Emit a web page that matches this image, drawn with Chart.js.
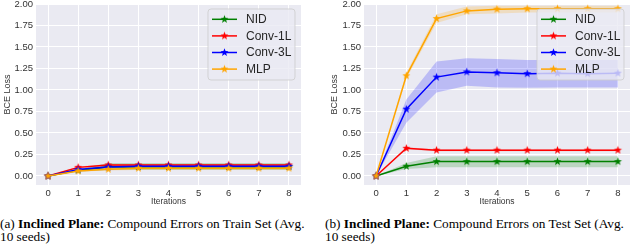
<!DOCTYPE html>
<html>
<head>
<meta charset="utf-8">
<script src="https://cdn.jsdelivr.net/npm/chart.js@4.4.0/dist/chart.umd.min.js"></script>
<style>
  html, body { margin: 0; padding: 0; background: #fff; overflow: hidden; }
  body { width: 640px; height: 247px; position: relative; }
  .plot { position: absolute; top: -8px; width: 320px; height: 220px; }
  .caption {
    position: absolute; top: 217px;
    font-family: "Liberation Serif", "Times New Roman", serif;
    font-size: 13.3px; line-height: 13px; color: #000; white-space: nowrap;
  }
</style>
</head>
<body>
<div class="plot" style="left:0"><canvas id="trainChart"></canvas></div>
<div class="plot" style="left:320px"><canvas id="testChart"></canvas></div>
<div class="caption" style="left:0">(a) <b>Inclined Plane:</b> Compound Errors on Train Set (Avg.<br>10 seeds)</div>
<div class="caption" style="left:325px">(b) <b>Inclined Plane:</b> Compound Errors on Test Set (Avg.<br>10 seeds)</div>
<script>
// --- Data ---
const iterations = [0, 1, 2, 3, 4, 5, 6, 7, 8];
const seriesNames = ['NID', 'Conv-1L', 'Conv-3L', 'MLP'];
const seriesColors = ['#008000', '#ff0000', '#0000ff', '#ffa500'];
const yTicks = [0, 0.25, 0.5, 0.75, 1.0, 1.25, 1.5, 1.75, 2.0];

// train set (a)
const trainNID = [0, 0.065, 0.108, 0.108, 0.108, 0.108, 0.108, 0.108, 0.108];
const trainNIDLo = [0, 0.05, 0.07, 0.07, 0.07, 0.07, 0.07, 0.07, 0.07];
const trainNIDHi = [0, 0.08, 0.15, 0.15, 0.15, 0.15, 0.15, 0.15, 0.15];
const trainConv1L = [0, 0.100, 0.128, 0.128, 0.128, 0.128, 0.128, 0.128, 0.128];
const trainConv1LLo = [0, 0.09, 0.118, 0.118, 0.118, 0.118, 0.118, 0.118, 0.118];
const trainConv1LHi = [0, 0.11, 0.138, 0.138, 0.138, 0.138, 0.138, 0.138, 0.138];
const trainConv3L = [0, 0.075, 0.105, 0.113, 0.113, 0.113, 0.113, 0.113, 0.113];
const trainConv3LLo = [0, 0.065, 0.09, 0.095, 0.095, 0.095, 0.095, 0.095, 0.095];
const trainConv3LHi = [0, 0.085, 0.125, 0.13, 0.13, 0.13, 0.13, 0.13, 0.13];
const trainMLP = [0, 0.058, 0.078, 0.09, 0.09, 0.09, 0.09, 0.09, 0.09];
const trainMLPLo = [0, 0.05, 0.065, 0.07, 0.07, 0.07, 0.07, 0.07, 0.07];
const trainMLPHi = [0, 0.066, 0.095, 0.11, 0.11, 0.11, 0.11, 0.11, 0.11];

// test set (b)
const testNID = [0, 0.113, 0.167, 0.167, 0.167, 0.167, 0.167, 0.167, 0.167];
const testNIDLo = [0, 0.08, 0.10, 0.10, 0.10, 0.10, 0.10, 0.10, 0.10];
const testNIDHi = [0, 0.15, 0.23, 0.23, 0.23, 0.23, 0.23, 0.23, 0.23];
const testConv1L = [0, 0.322, 0.30, 0.30, 0.30, 0.30, 0.30, 0.30, 0.30];
const testConv1LLo = [0, 0.31, 0.288, 0.288, 0.288, 0.288, 0.288, 0.288, 0.288];
const testConv1LHi = [0, 0.334, 0.312, 0.312, 0.312, 0.312, 0.312, 0.312, 0.312];
const testConv3L = [0, 0.777, 1.15, 1.21, 1.20, 1.19, 1.196, 1.19, 1.196];
const testConv3LLo = [0, 0.62, 0.97, 1.05, 1.03, 1.025, 1.03, 1.03, 1.03];
const testConv3LHi = [0, 0.89, 1.33, 1.37, 1.36, 1.35, 1.35, 1.35, 1.35];
const testMLP = [0, 1.165, 1.83, 1.92, 1.94, 1.945, 1.945, 1.945, 1.945];
const testMLPLo = [0, 1.13, 1.78, 1.88, 1.89, 1.90, 1.90, 1.90, 1.90];
const testMLPHi = [0, 1.20, 1.88, 1.97, 1.98, 1.98, 1.98, 1.98, 1.98];

// --- Helpers ---
function starMarker(color, r) {
    const c = document.createElement('canvas');
    const s = Math.ceil(r * 2 + 2);
    c.width = s; c.height = s;
    const ctx = c.getContext('2d');
    ctx.beginPath();
    for (let i = 0; i < 10; i++) {
        const rad = i % 2 === 0 ? r : r * 0.42;
        const a = -Math.PI / 2 + i * Math.PI / 5;
        const px = s / 2 + rad * Math.cos(a);
        const py = s / 2 + rad * Math.sin(a);
        if (i === 0) ctx.moveTo(px, py); else ctx.lineTo(px, py);
    }
    ctx.closePath();
    ctx.fillStyle = color;
    ctx.fill();
    return c;
}
const markers = seriesColors.map(c => starMarker(c, 4.2));

function toPoints(values) {
    return iterations.map((x, i) => ({ x: x, y: values[i] }));
}

function hexAlpha(hex, a) {
    const n = parseInt(hex.slice(1), 16);
    return `rgba(${(n >> 16) & 255},${(n >> 8) & 255},${n & 255},${a})`;
}

function buildDatasets(means, los, his) {
    const sets = [];
    // lines: lower order is drawn on top
    means.forEach((m, i) => {
        sets.push({
            label: seriesNames[i],
            data: toPoints(m),
            borderColor: seriesColors[i],
            backgroundColor: seriesColors[i],
            borderWidth: 1.5,
            pointStyle: markers[i],
            pointRadius: 4,
            fill: false,
            order: 4 - i
        });
    });
    // bands
    los.forEach((lo, i) => {
        const idx = sets.length;
        sets.push({
            label: '_lo' + i,
            data: toPoints(lo),
            borderWidth: 0,
            pointRadius: 0,
            fill: false,
            order: 20 - i
        });
        sets.push({
            label: '_hi' + i,
            data: toPoints(his[i]),
            borderWidth: 0,
            pointRadius: 0,
            backgroundColor: hexAlpha(seriesColors[i], 0.2),
            fill: { target: idx },
            order: 20 - i
        });
    });
    return sets;
}

// plot background
const bgPlugin = {
    id: 'bgPlugin',
    beforeDraw(chart) {
        const a = chart.chartArea;
        const ctx = chart.ctx;
        ctx.save();
        ctx.fillStyle = '#eaeaf2';
        ctx.fillRect(a.left, a.top, a.right - a.left, a.bottom - a.top);
        ctx.restore();
    }
};

// legend box in upper right of the plot area
const boxLegend = {
    id: 'boxLegend',
    afterDraw(chart) {
        const a = chart.chartArea;
        const ctx = chart.ctx;
        const w = 87, h = 71;
        const x0 = a.right - 6 - w;
        const y0 = a.top + 5;
        ctx.save();
        ctx.beginPath();
        ctx.roundRect(x0, y0, w, h, 3);
        ctx.fillStyle = 'rgba(234,234,242,0.8)';
        ctx.fill();
        ctx.strokeStyle = 'rgba(204,204,204,0.8)';
        ctx.lineWidth = 1;
        ctx.stroke();
        ctx.font = '12px "Liberation Sans", Arial, sans-serif';
        ctx.textBaseline = 'middle';
        seriesNames.forEach((name, i) => {
            const y = y0 + 10.3 + i * 16.6;
            ctx.strokeStyle = seriesColors[i];
            ctx.lineWidth = 1.5;
            ctx.beginPath();
            ctx.moveTo(x0 + 4, y);
            ctx.lineTo(x0 + 29, y);
            ctx.stroke();
            const m = markers[i];
            ctx.drawImage(m, x0 + 16.5 - m.width / 2, y - m.height / 2);
            ctx.fillStyle = '#262626';
            ctx.fillText(name, x0 + 38, y + 0.5);
        });
        ctx.restore();
    }
};

function makeChart(canvasId, datasets, yWidth, yTitlePad, padRight) {
    return new Chart(document.getElementById(canvasId), {
        type: 'line',
        data: { datasets: datasets },
        options: {
            responsive: true,
            maintainAspectRatio: false,
            animation: false,
            layout: { padding: { top: 12, right: padRight, bottom: 0, left: 0 } },
            plugins: { legend: { display: false }, tooltip: { enabled: false } },
            scales: {
                x: {
                    type: 'linear',
                    min: -0.4,
                    max: 8.4,
                    afterBuildTicks: s => { s.ticks = iterations.map(v => ({ value: v })); },
                    afterFit: s => { s.height = 27; },
                    grid: { color: '#ffffff', lineWidth: 1, drawTicks: false },
                    border: { display: false },
                    ticks: {
                        padding: 3,
                        color: '#333333',
                        font: { family: '"Liberation Sans", Arial, sans-serif', size: 9.5 }
                    },
                    title: {
                        display: true,
                        text: 'Iterations',
                        color: '#333333',
                        padding: { top: 0, bottom: 5 },
                        font: { family: '"Liberation Sans", Arial, sans-serif', size: 8.5 }
                    }
                },
                y: {
                    min: -0.105,
                    max: 2.0,
                    afterBuildTicks: s => { s.ticks = yTicks.map(v => ({ value: v })); },
                    afterFit: s => { s.width = yWidth; },
                    grid: { color: '#ffffff', lineWidth: 1, drawTicks: false },
                    border: { display: false },
                    ticks: {
                        padding: 3,
                        color: '#333333',
                        callback: v => v.toFixed(2),
                        font: { family: '"Liberation Sans", Arial, sans-serif', size: 9.5 }
                    },
                    title: {
                        display: true,
                        text: 'BCE Loss',
                        color: '#333333',
                        padding: { top: yTitlePad, bottom: 0 },
                        font: { family: '"Liberation Sans", Arial, sans-serif', size: 9 }
                    }
                }
            }
        },
        plugins: [bgPlugin, boxLegend]
    });
}

makeChart('trainChart',
    buildDatasets([trainNID, trainConv1L, trainConv3L, trainMLP],
                  [trainNIDLo, trainConv1LLo, trainConv3LLo, trainMLPLo],
                  [trainNIDHi, trainConv1LHi, trainConv3LHi, trainMLPHi]),
    36, 2, 19);

makeChart('testChart',
    buildDatasets([testNID, testConv1L, testConv3L, testMLP],
                  [testNIDLo, testConv1LLo, testConv3LLo, testMLPLo],
                  [testNIDHi, testConv1LHi, testConv3LHi, testMLPHi]),
    44, 9.5, 10);
</script>
</body>
</html>
